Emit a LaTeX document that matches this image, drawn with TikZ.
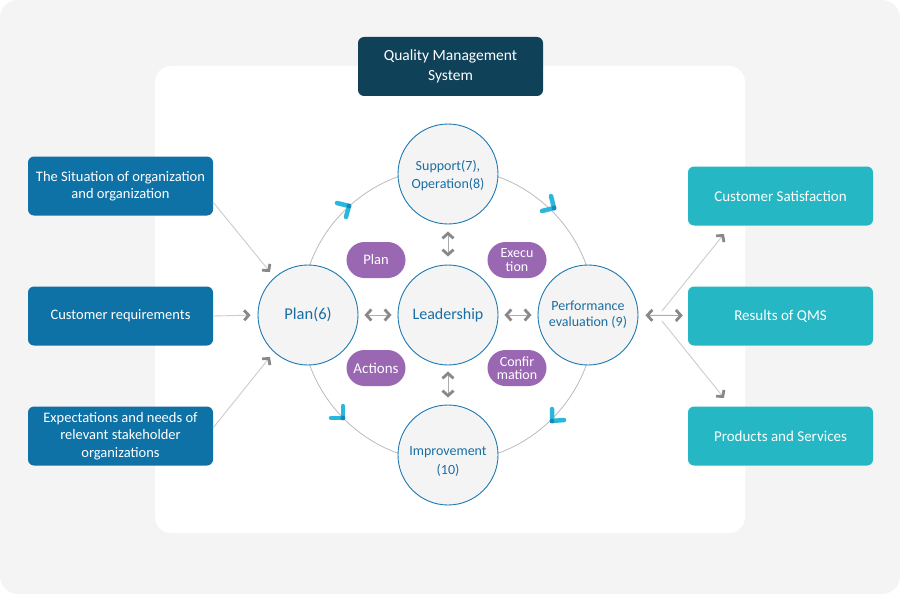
\documentclass[tikz,border=0pt]{standalone}
\usepackage{fontspec}
\setmainfont{Carlito}
\usetikzlibrary{arrows.meta,calc}
\definecolor{bggray}{HTML}{F4F4F4}
\definecolor{qmsc}{HTML}{0F4159}
\definecolor{lboxc}{HTML}{0E72A6}
\definecolor{rboxc}{HTML}{25B7C3}
\definecolor{circd}{HTML}{1D7AB3}
\definecolor{circt}{HTML}{1B6EA3}
\definecolor{circf}{HTML}{F4F4F4}
\definecolor{pillc}{HTML}{9A67B3}
\definecolor{ringc}{HTML}{BBBBBB}
\definecolor{linec}{HTML}{CCCCCC}
\definecolor{headc}{HTML}{888888}
\definecolor{chevc}{HTML}{2AB7DC}
\definecolor{chevd}{HTML}{1788BD}
\tikzset{
  boxbase/.style={rectangle, rounded corners=6pt, minimum width=185pt, minimum height=59pt,
    text=white, align=center, inner sep=2pt, font=\fontsize{14.5}{17.5}\selectfont},
  lbox/.style={boxbase, fill=lboxc},
  rbox/.style={boxbase, fill=rboxc, font=\fontsize{15}{17.5}\selectfont},
  qmsbox/.style={boxbase, fill=qmsc, font=\fontsize{15.5}{20}\selectfont},
  circ/.style={circle, minimum size=100pt, inner sep=0pt, fill=circf, draw=circd, line width=0.9pt,
    text=circt, align=center},
  pill/.style={rectangle, rounded corners=18pt, minimum width=59pt, minimum height=36pt, inner sep=1pt,
    fill=pillc, text=white, align=center},
  thinline/.style={draw=linec, line width=0.9pt},
  gtip/.style={-{Straight Barb[length=4.5pt,width=10pt,line width=2.8pt,color=headc]}},
  gdbl/.style={draw=headc!70, line width=0.9pt,
    {Straight Barb[length=5pt,width=11pt,line width=2.8pt,color=headc]}-{Straight Barb[length=5pt,width=11pt,line width=2.8pt,color=headc]}},
  chevline/.style={draw=chevc, line width=4.5pt, line cap=round, line join=round},
}
\newcommand{\mychev}[3]{%
  \draw[chevline] ($(#1)+#2$) -- (#1) -- ($(#1)+#3$);
  \fill[chevd] (#1) circle[radius=2.4pt];
}
\begin{document}
\begin{tikzpicture}[x=1pt,y=-1pt]
\useasboundingbox (0,0) rectangle (900,594);
\fill[white] (0,0) rectangle (900,594);
\fill[bggray, rounded corners=18pt] (0,0) rectangle (900,594);
\fill[white, rounded corners=16pt] (155,66) rectangle (745,533);

% QMS title
\node[qmsbox] (qms) at (450.5,66.5) {Quality Management\\System};

% ring
\draw[ringc, line width=0.8pt] (448,315) circle[radius=147pt];

% chevrons on ring
\coordinate (c1) at (349,206);
\coordinate (c2) at (554,208);
\coordinate (c3) at (552,421);
\coordinate (c4) at (343,418);
\mychev{c1}{(-12,-3)}{(-3,11)}
\mychev{c2}{(-3,-12)}{(-12,3)}
\mychev{c3}{(0,-12)}{(12,-1)}
\mychev{c4}{(0,-12)}{(-12,0)}

% circles
\node[circ, font=\fontsize{14}{18}\selectfont] (sup) at (448,174) {\raisebox{0pt}[\dimexpr\height+4pt\relax]{\begin{tabular}{@{}c@{}}Support(7),\\Operation(8)\end{tabular}}};
\node[circ, font=\fontsize{16}{19}\selectfont] (lead) at (448,315) {Leadership};
\node[circ, font=\fontsize{16.5}{19}\selectfont] (plan) at (308,315) {Plan(6)};
\node[circ, font=\fontsize{14}{16}\selectfont] (perf) at (588,315) {Performance\\evaluation (9)};
\node[circ, font=\fontsize{14}{19}\selectfont] (imp) at (448,455) {\raisebox{0pt}[\dimexpr\height+12pt\relax]{\begin{tabular}{@{}c@{}}Improvement\\(10)\end{tabular}}};

% pills
\node[pill, font=\fontsize{14.5}{16}\selectfont] (pplan) at (376,260) {Plan};
\node[pill, font=\fontsize{14}{13.5}\selectfont] (pexe) at (517,260) {Execu\\tion};
\node[pill, font=\fontsize{15}{16}\selectfont] (pact) at (376,368) {Actions};
\node[pill, font=\fontsize{14}{13.5}\selectfont] (pconf) at (517,368) {Confir\\mation};

% inner double arrows
\draw[gdbl, shorten <=6pt, shorten >=6pt] (plan) -- (lead);
\draw[gdbl, shorten <=6pt, shorten >=6pt] (lead) -- (perf);
\draw[gdbl, shorten <=7pt, shorten >=8pt] (sup) -- (lead);
\draw[gdbl, shorten <=6pt, shorten >=7pt] (lead) -- (imp);

% left boxes
\node[lbox] (l1) at (120.5,186) {The Situation of organization\\and organization};
\node[lbox] (l2) at (120.5,316) {Customer requirements};
\node[lbox] (l3) at (120.5,436) {Expectations and needs of\\relevant stakeholder\\organizations};

\coordinate (l1e) at (213,202);
\coordinate (l1t) at (270,272);
\coordinate (l3e) at (213,428);
\coordinate (l3t) at (270,357);
\draw[thinline, gtip] (l1e) -- (l1t);
\draw[thinline, gtip, shorten >=7pt] (l2.east) -- (plan.west);
\draw[thinline, gtip] (l3e) -- (l3t);

% right boxes
\node[rbox] (r1) at (780.5,196) {Customer Satisfaction};
\node[rbox] (r2) at (780.5,316) {Results of QMS};
\node[rbox] (r3) at (780.5,436) {Products and Services};

\draw[gdbl, shorten <=7pt, shorten >=5pt] (perf) -- (r2);
\coordinate (fk1) at (662,311);
\coordinate (fk2) at (662,321);
\coordinate (r1t) at (724,234);
\coordinate (r3t) at (724,398);
\draw[thinline, gtip] (fk1) -- (r1t);
\draw[thinline, gtip] (fk2) -- (r3t);
\end{tikzpicture}
\end{document}
